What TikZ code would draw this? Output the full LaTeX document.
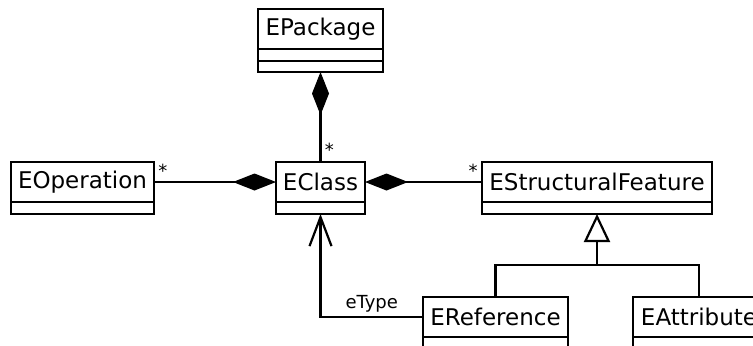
\documentclass[tikz,border=0pt]{standalone}
\usepackage{fontspec}
\setmainfont{DejaVu Sans}
\usetikzlibrary{arrows.meta,positioning}

\begin{document}
\begin{tikzpicture}[
    x=0.5pt, y=-0.5pt,
    classname/.style={draw, line width=0.6pt, outer sep=0pt, minimum height=20pt, inner sep=0pt, font=\fontsize{11.5}{13}\selectfont},
    compart/.style={draw, line width=0.6pt, outer sep=0pt, anchor=north, inner sep=0pt},
    assoc/.style={line width=1.4pt},
    comp/.style={assoc, {Diamond[fill=black, length=21.5pt, width=8.5pt, line width=0.6pt]}-},
    mult/.style={font=\fontsize{9}{10}\selectfont, inner sep=1.5pt},
    gen/.style={assoc, -{Triangle[open, length=14pt, width=13pt, line width=1.1pt]}},
    navi/.style={assoc, -{Straight Barb[length=14.5pt, width=11pt, line width=1.1pt]}}
]
\useasboundingbox (0,0) rectangle (753,345);

% Classes
\node[classname, minimum width=62.5pt] (epackage) at (320.5,29) {EPackage};
\node[compart, minimum width=62.5pt, minimum height=6pt] (epackage-a) at (epackage.south) {};
\node[compart, minimum width=62.5pt, minimum height=5.5pt] (epackage-b) at (epackage-a.south) {};

\node[classname, minimum width=71.5pt] (eoperation) at (82.5,182) {EOperation};
\node[compart, minimum width=71.5pt, minimum height=6pt] (eoperation-a) at (eoperation.south) {};

\node[classname, minimum width=44.5pt] (eclass) at (320.5,182) {EClass};
\node[compart, minimum width=44.5pt, minimum height=6pt] (eclass-a) at (eclass.south) {};

\node[classname, minimum width=115pt] (esfeature) at (597,182) {EStructuralFeature};
\node[compart, minimum width=115pt, minimum height=6pt] (esfeature-a) at (esfeature.south) {};

\node[classname, minimum width=72.5pt] (ereference) at (495.5,317) {EReference};
\node[compart, minimum width=72.5pt, minimum height=6pt] (ereference-a) at (ereference.south) {};

\node[classname, minimum width=66pt] (eattribute) at (699,317) {EAttribute};
\node[compart, minimum width=66pt, minimum height=6pt] (eattribute-a) at (eattribute.south) {};

% Containment
\draw[comp] (epackage-b.south) -- (eclass.north) node[mult, pos=0.86, right] {*};
\draw[comp] (eclass.west) -- (eoperation.east) node[mult, pos=1, above right] {*};
\draw[comp] (eclass.east) -- (esfeature.west) node[mult, pos=1, above left] {*};

% Inheritance
\coordinate (genjoin) at (597,265);
\draw[gen] (ereference.north) |- (genjoin) -- (esfeature-a.south);
\draw[assoc] (eattribute.north) |- (genjoin);

% Reference type
\draw[navi] (ereference.west) -| (eclass-a.south) node[mult, pos=0.25, above] {eType};

\end{tikzpicture}
\end{document}
